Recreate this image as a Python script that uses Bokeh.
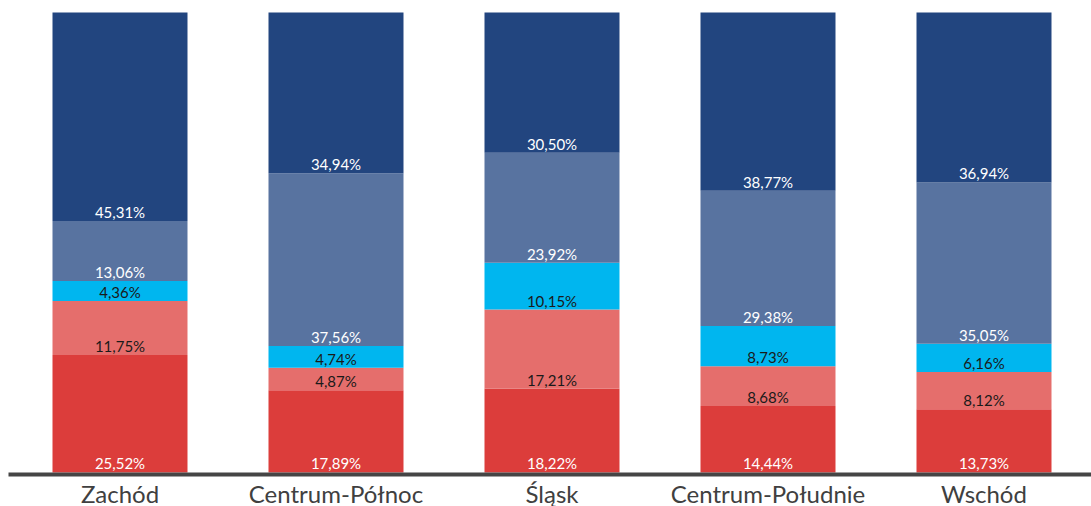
from bokeh.plotting import figure
from bokeh.models import ColumnDataSource, FixedTicker, Range1d
from bokeh.embed import file_html
from bokeh.resources import INLINE
from bokeh.core.properties import value

categories = ["Zachód", "Centrum-Północ", "Śląsk", "Centrum-Południe", "Wschód"]
seg1 = [25.52, 17.89, 18.22, 14.44, 13.73]   # red
seg2 = [11.75, 4.87, 17.21, 8.68, 8.12]      # salmon
seg3 = [4.36, 4.74, 10.15, 8.73, 6.16]       # cyan
seg4 = [13.06, 37.56, 23.92, 29.38, 35.05]   # slate
seg5 = [45.31, 34.94, 30.50, 38.77, 36.94]   # navy

series = [seg1, seg2, seg3, seg4, seg5]
colors = ["#DC3D3B", "#E56E6C", "#00B6EF", "#5873A0", "#22457F"]
text_colors = ["#FFFFFF", "#1A1A1A", "#1A1A1A", "#FFFFFF", "#FFFFFF"]

xs = list(range(len(categories)))

p = figure(frame_width=1083, frame_height=474, output_backend="svg", toolbar_location=None,
           x_range=Range1d(-0.5162, 4.4977), y_range=Range1d(-0.4348, 102.609),
           min_border_left=8, min_border_right=0, min_border_top=0, min_border_bottom=0)
p.outline_line_color = None
p.grid.visible = False
p.yaxis.visible = False
p.background_fill_color = "white"
p.border_fill_color = "white"

bottom = [0.0] * len(categories)
for vals, col, tcol in zip(series, colors, text_colors):
    top = [b + v for b, v in zip(bottom, vals)]
    src = ColumnDataSource(dict(x=xs, bottom=bottom, top=top,
                                label=[f"{v:.2f}%".replace(".", ",") for v in vals]))
    p.vbar(x="x", width=0.625, bottom="bottom", top="top", source=src,
           fill_color=col, line_color=None)
    p.text(x="x", y="bottom", text="label", source=src, text_align="center",
           text_baseline="alphabetic", y_offset=-9, text_color=tcol,
           text_font=value("Lato"), text_font_size="15px")
    bottom = top

ax = p.xaxis[0]
ax.ticker = FixedTicker(ticks=xs)
ax.major_label_overrides = {i: c for i, c in enumerate(categories)}
ax.axis_line_color = "#454545"
ax.axis_line_width = 4
ax.major_tick_line_color = None
ax.minor_tick_line_color = None
ax.major_tick_in = 0
ax.major_tick_out = 0
ax.major_label_text_font = "Lato"
ax.major_label_text_font_size = "24px"
ax.major_label_text_color = "#404040"
ax.major_label_standoff = 4

open("out.html", "w").write(file_html(p, INLINE))
